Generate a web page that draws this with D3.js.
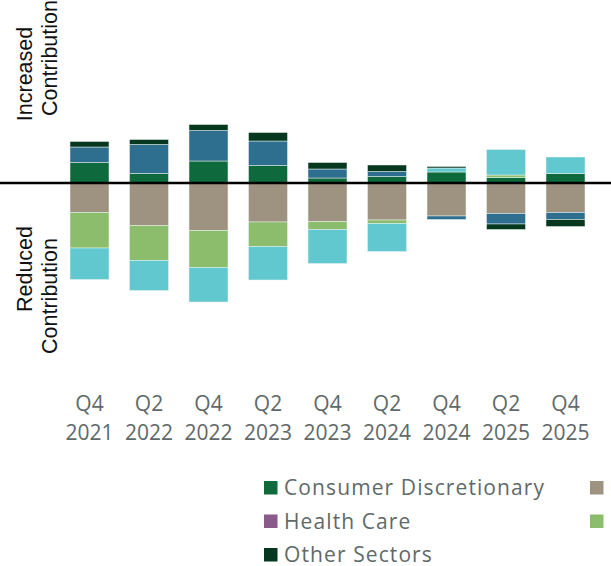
<!DOCTYPE html>
<html>
<head>
<meta charset="utf-8">
<script src="https://cdn.jsdelivr.net/npm/d3@7"></script>
<style>
  html, body { margin: 0; padding: 0; background: #ffffff; overflow: hidden; }
  svg { display: block; }
</style>
</head>
<body>
<svg id="chart" width="611" height="566"></svg>
<script>
// Quarterly sector contributions (percentage points), positive = increased, negative = reduced
const quarters = ["Q4 2021", "Q2 2022", "Q4 2022", "Q2 2023", "Q4 2023", "Q2 2024", "Q4 2024", "Q2 2025", "Q4 2025"];
const sectors = ["Consumer Discretionary", "Consumer Staples", "Financials", "Health Care", "Industrials", "Information Technology", "Other Sectors"];
const colors = ["#0e6a3d", "#9e9281", "#2e6e8e", "#8a5b8a", "#8bbd6c", "#62c8d0", "#06371f"];

const consumerDiscretionary = [0.41, 0.19, 0.44, 0.35, 0.10, 0.13, 0.22, 0.11, 0.19];
const consumerStaples       = [-0.59, -0.85, -0.95, -0.78, -0.77, -0.74, -0.66, -0.61, -0.59];
const financials            = [0.31, 0.58, 0.61, 0.49, 0.18, 0.10, -0.07, -0.21, -0.14];
const healthCare            = [0, 0, 0, 0, 0, 0, 0, 0, 0];
const industrials           = [-0.71, -0.70, -0.74, -0.49, -0.16, -0.07, 0, 0.05, 0];
const informationTech       = [-0.63, -0.60, -0.69, -0.67, -0.68, -0.56, 0.08, 0.51, 0.33];
const otherSectors          = [0.11, 0.10, 0.12, 0.17, 0.13, 0.13, 0.03, -0.11, -0.14];

const seriesValues = [consumerDiscretionary, consumerStaples, financials, healthCare, industrials, informationTech, otherSectors];

const rows = quarters.map((q, i) => {
  const r = { quarter: q };
  sectors.forEach((s, k) => { r[s] = seriesValues[k][i]; });
  return r;
});

const svg = d3.select("#chart");

const x = d3.scaleBand().domain(quarters).range([59.75, 595.25]).paddingInner(0.345).paddingOuter(0.1725);
const y = d3.scaleLinear().domain([-4, 4]).range([383, -17]);

const stacked = d3.stack().keys(sectors).offset(d3.stackOffsetDiverging)(rows);

// Stacked bars
svg.append("g")
  .selectAll("g")
  .data(stacked)
  .join("g")
    .attr("fill", (d, i) => colors[i])
  .selectAll("rect")
  .data(d => d)
  .join("rect")
    .attr("x", d => x(d.data.quarter))
    .attr("width", x.bandwidth())
    .attr("y", d => y(Math.max(d[0], d[1])))
    .attr("height", d => Math.abs(y(d[0]) - y(d[1])))
    .attr("stroke", "rgba(235,245,242,0.7)")
    .attr("stroke-width", 0.7);

// Zero line
svg.append("line")
  .attr("x1", 0).attr("x2", 611)
  .attr("y1", y(0)).attr("y2", y(0))
  .attr("stroke", "#000").attr("stroke-width", 2.6);

// Category labels, two lines each
const labelFont = "'Open Sans', sans-serif";
const catG = svg.append("g")
  .attr("font-family", labelFont)
  .attr("font-size", 21)
  .attr("fill", "#5f6969")
  .attr("text-anchor", "middle");
quarters.forEach(q => {
  const [qq, yr] = q.split(" ");
  const cx = x(q) + x.bandwidth() / 2;
  catG.append("text").attr("x", cx).attr("y", 410.5).text(qq);
  catG.append("text").attr("x", cx).attr("y", 439.5).text(yr);
});

// Side titles
const titleG = svg.append("g")
  .attr("font-family", "'Liberation Sans', Arial, sans-serif")
  .attr("font-size", 21.5)
  .attr("fill", "#111")
  .attr("text-anchor", "middle");
const sideTitles = [
  { text: "Increased", x: 32, y: 74 },
  { text: "Contribution", x: 57, y: 58 },
  { text: "Reduced", x: 32, y: 269 },
  { text: "Contribution", x: 57, y: 296 }
];
sideTitles.forEach(t => {
  titleG.append("text")
    .attr("transform", `translate(${t.x},${t.y}) rotate(-90)`)
    .text(t.text);
});

// Legend, three columns laid out row by row
const legend = svg.append("g")
  .attr("font-family", labelFont)
  .attr("font-size", 21)
  .attr("letter-spacing", 1.1)
  .attr("fill", "#5f6969");
sectors.forEach((s, i) => {
  const col = i % 3, row = Math.floor(i / 3);
  const gx = 264 + col * 326, gy = 481 + row * 33.5;
  const item = legend.append("g").attr("transform", `translate(${gx},${gy})`);
  item.append("rect").attr("width", 13.5).attr("height", 13.5).attr("fill", colors[i]);
  item.append("text").attr("x", 20).attr("y", 14).text(s);
});
</script>
</body>
</html>
